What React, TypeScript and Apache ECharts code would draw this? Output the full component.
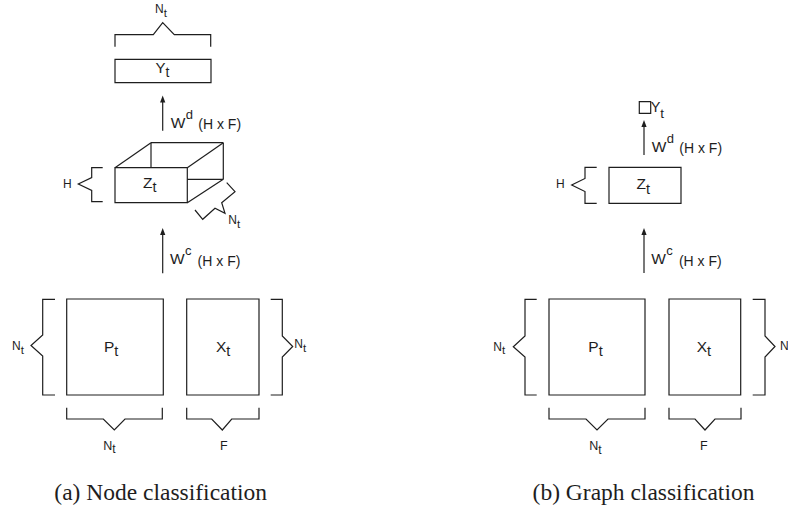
import React, { useEffect, useRef } from 'react';
import * as echarts from 'echarts';

const SANS = '"Liberation Sans", Arial, Helvetica, sans-serif';
const SERIF = '"Liberation Serif", "Times New Roman", serif';
const INK = '#1e1e1e';
const LW = 1.2;

// Text content of the diagram
const captions = ['(a) Node classification', '(b) Graph classification'];
const matrixNames = ['P', 'X'];
const hiddenName = 'Z';
const outputName = 'Y';
const subscript = 't';
const nodeDim = 'N';
const featDim = 'F';
const hiddenDim = 'H';
const weightName = 'W';
const weightSups = ['d', 'c'];
const weightShape = '(H x F)';

let ctx: CanvasRenderingContext2D | null = null;
function measure(text: string, size: number, family = SANS) {
  if (!ctx) ctx = document.createElement('canvas').getContext('2d');
  if (!ctx) return text.length * size * 0.6;
  ctx.font = `${size}px ${family}`;
  return ctx.measureText(text).width;
}

function txt(x: number, y: number, text: string, size: number, family = SANS, align = 'left') {
  return {
    type: 'text',
    x,
    y,
    silent: true,
    style: { text, fontSize: size, fontFamily: family, fill: INK, align, verticalAlign: 'middle' },
  };
}

function sub(x: number, cy: number, main: string, s: string, size: number, subSize: number, dyb: number) {
  const w = measure(main, size);
  const base = cy + 0.35 * size;
  return [txt(x, cy, main, size), txt(x + w, base + dyb - 0.35 * subSize, s, subSize)];
}

function weight(x: number, cy: number, sup: string) {
  const w = measure(weightName, 15.5);
  const base = cy + 0.35 * 15.5;
  return [
    txt(x, cy, weightName, 15.5),
    txt(x + w + 0.3, base - 8.8 - 0.35 * 13, sup, 13),
    txt(x + 27.6, cy + 2.2, weightShape, 14),
  ];
}

function poly(points: number[][]) {
  return { type: 'polyline', silent: true, shape: { points }, style: { stroke: INK, lineWidth: LW, fill: null } };
}

function seg(x1: number, y1: number, x2: number, y2: number) {
  return { type: 'line', silent: true, shape: { x1, y1, x2, y2 }, style: { stroke: INK, lineWidth: LW } };
}

function box(x: number, y: number, w: number, h: number) {
  return { type: 'rect', silent: true, shape: { x, y, width: w, height: h }, style: { stroke: INK, lineWidth: LW, fill: null } };
}

function arrow(x: number, yBottom: number, yTip: number) {
  return [
    seg(x, yBottom, x, yTip + 5),
    { type: 'polygon', silent: true, shape: { points: [[x, yTip], [x - 2.6, yTip + 7], [x + 2.6, yTip + 7]] }, style: { fill: INK } },
  ];
}

function vBrace(xv: number, top: number, bottom: number, tickX: number, px: number, py: number, j1: number, j2: number) {
  return poly([[tickX, top], [xv, top], [xv, j1], [px, py], [xv, j2], [xv, bottom], [tickX, bottom]]);
}

function hBrace(yh: number, left: number, right: number, tickY: number, px: number, py: number, j1: number, j2: number) {
  return poly([[left, tickY], [left, yh], [j1, yh], [px, py], [j2, yh], [right, yh], [right, tickY]]);
}

function buildElements() {
  const e: any[] = [];
  // ---------- (a) Node classification ----------
  e.push(hBrace(34.7, 115, 210.7, 46.7, 162.7, 22.7, 153.3, 174.3));
  e.push(...sub(155, 9.2, nodeDim, subscript, 12, 11.5, 3.4));
  e.push(box(115, 59.3, 96, 23.4));
  e.push(...sub(155.5, 67, outputName, subscript, 15, 14, 5));
  e.push(...arrow(162.7, 130.7, 95.5));
  e.push(...weight(170.7, 122.2, weightSups[0]));
  // 3D hidden tensor
  e.push(box(115, 167.7, 72.3, 35));
  e.push(seg(115, 167.7, 151, 142.7));
  e.push(seg(151, 142.7, 223.3, 142.7));
  e.push(seg(187.3, 167.7, 223.3, 142.7));
  e.push(seg(223.3, 142.7, 223.3, 179.3));
  e.push(seg(187.3, 202.7, 223.3, 179.3));
  e.push(seg(151, 142.7, 151, 167.7));
  e.push(seg(187.3, 179.3, 223.3, 179.3));
  e.push(...sub(143, 182.3, hiddenName, subscript, 15.5, 14.5, 4.5));
  e.push(vBrace(91.7, 167.7, 201.7, 102.7, 78.3, 184, 177.5, 190.5));
  e.push(txt(63, 184, hiddenDim, 12));
  e.push(poly([[226.7, 182.7], [235, 191.7], [221.7, 202.7], [225, 213.3], [215, 208.3], [202.7, 219.3], [195, 210]]));
  e.push(...sub(228.3, 220, nodeDim, subscript, 12, 11.5, 3.4));
  e.push(...arrow(162.7, 273.3, 228));
  e.push(...weight(170, 258.8, weightSups[1]));
  // input matrices
  e.push(box(66.7, 299, 96.6, 96));
  e.push(box(186.7, 299, 72.3, 96));
  e.push(...sub(104, 346.2, matrixNames[0], subscript, 15.5, 14.5, 4.3));
  e.push(...sub(216, 346, matrixNames[1], subscript, 15.5, 14.5, 4.3));
  e.push(vBrace(42.7, 299.3, 395, 55, 31, 345.5, 335, 356));
  e.push(...sub(12, 346, nodeDim, subscript, 12, 11.5, 3.4));
  e.push(vBrace(282.3, 299.3, 395, 270.7, 292.7, 346.5, 336, 357));
  e.push(...sub(294.3, 344, nodeDim, subscript, 12, 11.5, 3.4));
  e.push(hBrace(419, 66.7, 162.3, 407.7, 114.3, 430, 103.3, 125));
  e.push(hBrace(419, 186.7, 259, 407.7, 222.3, 430, 211.7, 231.7));
  e.push(...sub(103.3, 445.5, nodeDim, subscript, 12.5, 12, 3.8));
  e.push(txt(220, 445.5, featDim, 12.5));
  e.push(txt(160.7, 491.5, captions[0], 23.5, SERIF, 'center'));

  // ---------- (b) Graph classification ----------
  e.push(box(639.3, 101.7, 11.4, 11.6));
  e.push(...sub(650.7, 106.7, outputName, subscript, 14.5, 13.5, 6));
  e.push(...arrow(644, 155, 120));
  e.push(...weight(651.7, 146, weightSups[0]));
  e.push(box(609, 167.3, 72, 36));
  e.push(...sub(636.5, 183.8, hiddenName, subscript, 15.5, 14.5, 4.5));
  e.push(vBrace(585, 167.3, 203.3, 596.7, 571.7, 185, 178.5, 191.5));
  e.push(txt(556, 184, hiddenDim, 12));
  e.push(...arrow(644, 273, 228));
  e.push(...weight(651.3, 258.8, weightSups[1]));
  e.push(box(549, 299, 96, 96));
  e.push(box(669, 299, 71.7, 96));
  e.push(...sub(588.3, 346.5, matrixNames[0], subscript, 15.5, 14.5, 4.3));
  e.push(...sub(696.7, 346, matrixNames[1], subscript, 15.5, 14.5, 4.3));
  e.push(vBrace(525, 299.3, 395, 536.7, 513.3, 346.7, 336, 357));
  e.push(...sub(493.3, 346.7, nodeDim, subscript, 12, 11.5, 3.4));
  e.push(vBrace(765, 299.3, 395, 752.7, 775, 346.5, 336, 357));
  e.push(...sub(780, 346, nodeDim, subscript, 12, 11.5, 3.4));
  e.push(hBrace(419, 549, 645, 407.7, 597, 430, 586, 608));
  e.push(hBrace(419, 669, 741, 407.7, 705, 430, 695, 715));
  e.push(...sub(589.3, 445.8, nodeDim, subscript, 12.5, 12, 3.8));
  e.push(txt(700, 445.5, featDim, 12.5));
  e.push(txt(643.5, 491.5, captions[1], 23.5, SERIF, 'center'));
  return e;
}

export default function App() {
  const ref = useRef<HTMLDivElement>(null);
  useEffect(() => {
    if (!ref.current) return;
    const chart = echarts.init(ref.current, null, { renderer: 'svg' });
    chart.setOption({
      animation: false,
      backgroundColor: '#ffffff',
      graphic: { elements: buildElements() },
    });
    return () => chart.dispose();
  }, []);
  return (
    <div
      ref={ref}
      style={{ position: 'fixed', left: 0, top: 0, width: 788, height: 508, background: '#fff' }}
    />
  );
}
